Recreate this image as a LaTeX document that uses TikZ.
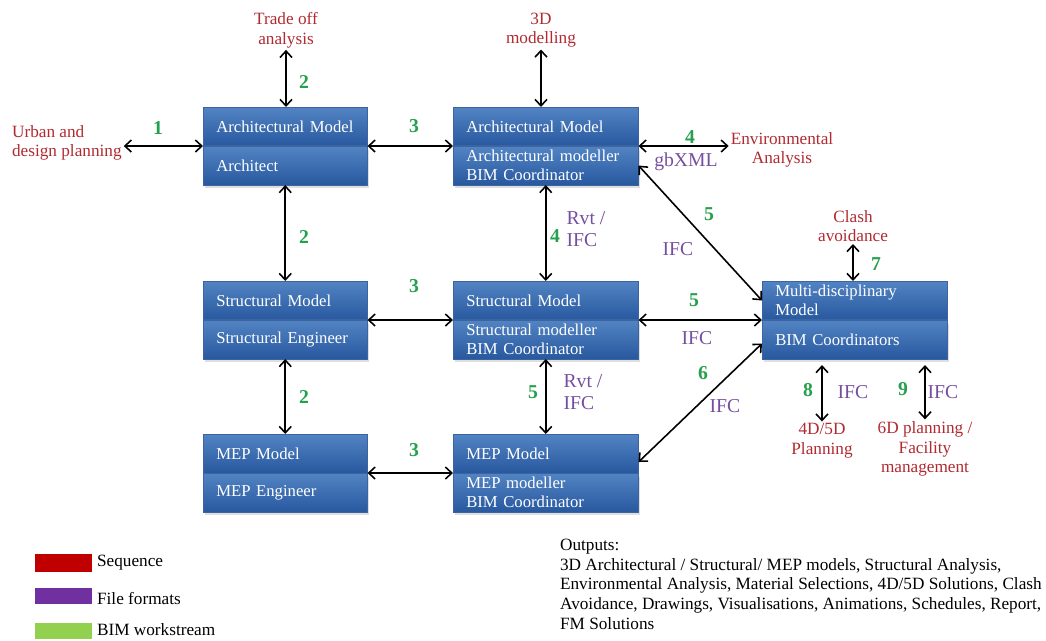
\documentclass[tikz,border=0pt]{standalone}
\usepackage{fontspec}
\setmainfont{Liberation Serif}
\usetikzlibrary{arrows.meta,positioning,shadows}
\definecolor{seqred}{RGB}{176,42,48}
\definecolor{fmtpurple}{RGB}{118,78,160}
\definecolor{wsgreen}{RGB}{38,160,78}
\definecolor{boxtop}{RGB}{82,132,196}
\definecolor{boxbot}{RGB}{40,88,158}
\definecolor{boxedge}{RGB}{60,100,160}
\definecolor{legred}{RGB}{192,0,0}
\definecolor{legpurple}{RGB}{112,48,160}
\definecolor{leggreen}{RGB}{146,208,80}
\newcommand\boxfont{\fontsize{9.5}{10.8}\selectfont}
\newcommand\lblfont{\fontsize{9.8}{11.2}\selectfont}
\newcommand\fmtfont{\fontsize{11.2}{12.4}\selectfont}
\newcommand\outfont{\fontsize{9.8}{11.2}\selectfont}
% one model box: name, width style, top-left corner, upper text, lower text
\def\MB#1#2#3#4#5{
  \node[part,#2,anchor=north west] (#1-t) at #3 {#4};
  \node[part,#2,below=0pt of #1-t,drop shadow={shadow xshift=1pt,shadow yshift=-2pt,opacity=0.25}] (#1-b) {#5};}

\begin{document}
\begin{tikzpicture}[x=0.02cm,y=-0.02cm,
  part/.style={rectangle,draw=boxedge,line width=0.3pt,top color=boxtop,bottom color=boxbot,
    text=white,align=left,inner xsep=0.26cm,inner ysep=1pt,minimum height=0.77cm,font=\boxfont},
  narrow/.style={text width=2.76cm},
  wide/.style={text width=3.18cm},
  link/.style={{Straight Barb[length=1.3mm,width=2.4mm]}-{Straight Barb[length=1.3mm,width=2.4mm]},line width=0.9pt},
  seq/.style={text=seqred,align=center,font=\lblfont,inner sep=1pt},
  num/.style={text=wsgreen,font=\fmtfont\bfseries},
  fmt/.style={text=fmtpurple,font=\fmtfont,align=left}]
\useasboundingbox (0,0) rectangle (1046,640);

% model boxes
\MB{arch}{narrow}{(203,107)}{Architectural Model}{Architect}
\MB{str}{narrow}{(203,281)}{Structural Model}{Structural Engineer}
\MB{mep}{narrow}{(203,434)}{MEP Model}{MEP Engineer}
\MB{arch2}{wide}{(453,107)}{Architectural Model}{Architectural modeller\\BIM Coordinator}
\MB{str2}{wide}{(453,281)}{Structural Model}{Structural modeller\\BIM Coordinator}
\MB{mep2}{wide}{(453,434)}{MEP Model}{MEP modeller\\BIM Coordinator}
\MB{multi}{wide}{(762,281)}{Multi-disciplinary\\Model}{BIM Coordinators}

% sequence labels
\node[seq,anchor=west,align=left] (urban) at (10,143) {Urban and\\design planning};
\node[seq] (trade) at (286,30) {Trade off\\analysis};
\node[seq] (model3d) at (541,30) {3D\\modelling};
\node[seq] (env) at (782,150) {Environmental\\Analysis};
\node[seq] (clash) at (853,226) {Clash\\avoidance};
\node[seq] (plan45) at (822,441) {4D/5D\\Planning};
\node[seq] (fm) at (925,449) {6D planning /\\Facility\\management};

% connectors
\draw[link] (arch-t.south west -| urban.east) -- (arch-t.south west);
\draw[link] (trade.south) -- (trade.south |- arch-t.north);
\draw[link] (arch-t.south east) -- (arch2-t.south west);
\draw[link] (arch-b.south) -- (str-t.north);
\draw[link] (str-b.south) -- (mep-t.north);
\draw[link] (str-t.south east) -- (str2-t.south west);
\draw[link] (mep-t.south east) -- (mep2-t.south west);
\draw[link] (model3d.south) -- (model3d.south |- arch2-t.north);
\draw[link] (arch2-t.south east) -- (arch2-t.south east -| env.west);
\draw[link] (arch2-b.south) -- (str2-t.north);
\draw[link] (str2-b.south) -- (mep2-t.north);
\draw[link] (arch2-b.east) -- (multi-t.west);
\draw[link] (str2-t.south east) -- (multi-t.south west);
\draw[link] ([yshift=0.22cm]mep2-t.south east) -- ([yshift=-0.08cm]multi-b.west);
\draw[link] (clash.south) -- (clash.south |- multi-t.north);
\draw[link,shorten >=0.12cm] (plan45.north) -- (plan45.north |- multi-b.south);
\draw[link,shorten >=0.12cm] (fm.north) -- (fm.north |- multi-b.south);

% workstream numbers
\node[num] (n1) at (158,128) {1};
\node[num] (n2a) at (304,82) {2};
\node[num] (n2b) at (304,237) {2};
\node[num] (n2c) at (304,397) {2};
\node[num] (n3a) at (414,126) {3};
\node[num] (n3b) at (414,286) {3};
\node[num] (n3c) at (414,450) {3};
\node[num] (n4a) at (690,137) {4};
\node[num] (n4b) at (555,236) {4};
\node[num] (n5a) at (709,214) {5};
\node[num] (n5b) at (694,300) {5};
\node[num] (n5c) at (533,392) {5};
\node[num] (n6) at (703,373) {6};
\node[num] (n7) at (876,264) {7};
\node[num] (n8) at (808,390) {8};
\node[num] (n9) at (903,389) {9};

% file formats
\node[fmt] (f1) at (686,162) {gbXML};
\node[fmt] (f2) at (586,229) {Rvt /\\IFC};
\node[fmt] (f3) at (583,392) {Rvt /\\IFC};
\node[fmt] (f4) at (678,249) {IFC};
\node[fmt] (f5) at (697,338) {IFC};
\node[fmt] (f6) at (725,406) {IFC};
\node[fmt] (f7) at (853,392) {IFC};
\node[fmt] (f8) at (943,392) {IFC};

% legend
\fill[legred] (35,554) rectangle (92,572);
\fill[legpurple] (35,588) rectangle (92,604);
\fill[leggreen] (35,623) rectangle (92,639);
\node[anchor=west,font=\outfont,inner sep=1pt] (lseq) at (95,563) {Sequence};
\node[anchor=west,font=\outfont,inner sep=1pt] (lfmt) at (95,599) {File formats};
\node[anchor=west,font=\outfont,inner sep=1pt] (lws) at (95,630) {BIM workstream};

% outputs
\node[anchor=north west,font=\outfont,align=left,inner sep=1pt] (outputs) at (558,537)
  {Outputs:\\3D Architectural / Structural/ MEP models, Structural Analysis,\\
   Environmental Analysis, Material Selections, 4D/5D Solutions, Clash\\
   Avoidance, Drawings, Visualisations, Animations, Schedules, Report,\\
   FM Solutions};
\end{tikzpicture}
\end{document}
